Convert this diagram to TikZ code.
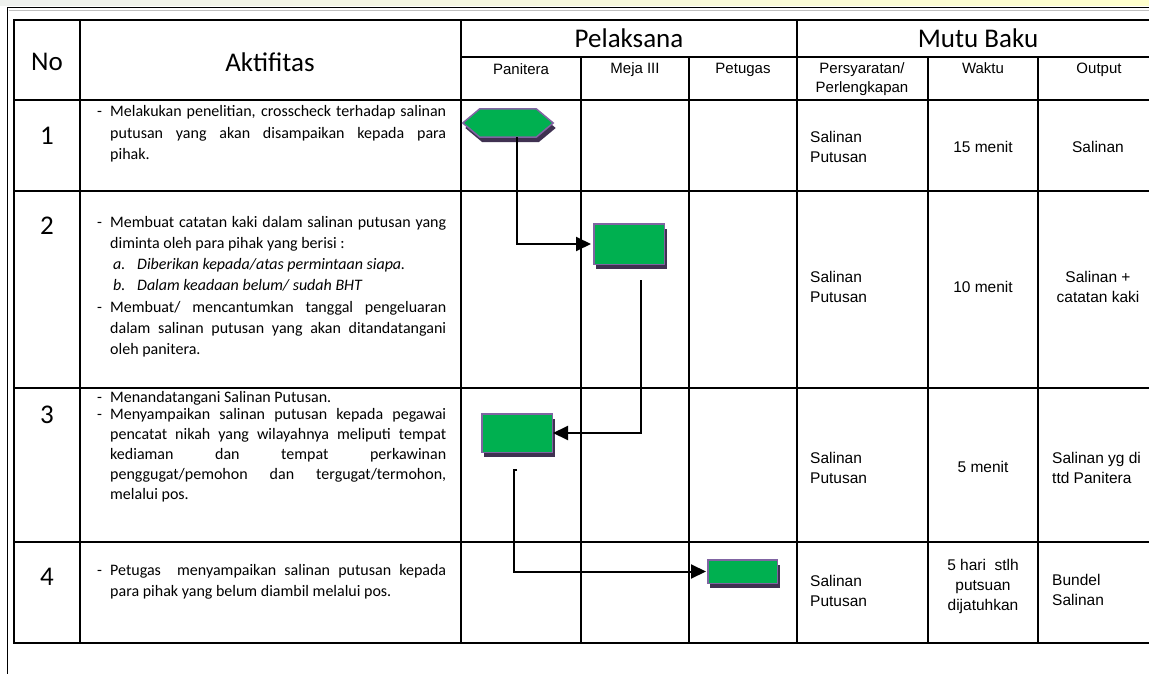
\documentclass[tikz,border=0pt]{standalone}
\usepackage{fontspec}
\setmainfont{Carlito}
\newfontfamily\arialfont{Liberation Sans}
\usetikzlibrary{arrows.meta,shadows}

\definecolor{boxgreen}{HTML}{00B050}
\definecolor{boxpurple}{HTML}{8064A2}
\definecolor{shadepurple}{HTML}{3F3151}

% items in the Aktifitas column
\newcommand\dashitem{\par\noindent\hangindent=13pt\hangafter=1\makebox[13pt][l]{-}}
\newcommand\letitem[2]{\par\noindent\hspace*{16pt}\makebox[24pt][l]{\itshape #1}\textit{#2}}
\newcommand\actbox[2][21.3]{\parbox[t]{349pt}{\fontsize{16}{#1}\selectfont
  \hyphenpenalty=10000 \exhyphenpenalty=10000 #2}}

\tikzset{
  tabline/.style={line width=1.8pt, line cap=rect},
  head/.style={font=\fontsize{27}{32}\selectfont, inner sep=0},
  sub/.style={font=\arialfont\fontsize{15}{19.5}\selectfont, inner sep=0, align=center, anchor=north},
  cell/.style={font=\arialfont\fontsize{15.5}{20}\selectfont, inner sep=0},
  act/.style={anchor=base west, inner sep=0},
  task/.style={draw=boxpurple, fill=boxgreen, line width=1.5pt, inner sep=0,
    drop shadow={shadow xshift=2.5pt, shadow yshift=-5pt, fill=shadepurple, opacity=1}},
  flow/.style={line width=2pt, -{Triangle[length=15pt,width=14pt]}},
}

\begin{document}
\begin{tikzpicture}[x=1pt, y=-1pt]
    \useasboundingbox (0,0) rectangle (1149,674);
    \fill[white] (0,0) rectangle (1149,674);
    \fill[left color=green!8!gray!12, right color=yellow!20] (0,0) rectangle (1149,6);

    % Outer frame
    \draw[line width=1.4pt] (7.5,674) -- (7.5,7.5) -- (1149,7.5);
    \draw[gray!50, line width=0.8pt] (9,10.5) -- (1149,10.5);

    % Table grid
    \draw[tabline] (14,20) rectangle (1165,643);
    \draw[tabline] (14,100) -- (1165,100) (14,191) -- (1165,191)
                   (14,388) -- (1165,388) (14,542) -- (1165,542);
    \draw[tabline] (461,57) -- (1165,57);
    \draw[tabline] (80,20) -- (80,643) (461,20) -- (461,643) (797,20) -- (797,643);
    \draw[tabline] (581,57) -- (581,643) (689,57) -- (689,643)
                   (928,57) -- (928,643) (1038,57) -- (1038,643);

    % Header
    \node[head] (hno) at (47,62) {No};
    \node[head] (hakt) at (270,62) {Aktifitas};
    \node[head] (hpel) at (629,38) {Pelaksana};
    \node[head] (hmutu) at (978,38) {Mutu Baku};
    \node[sub] (hpan) at (521,63) {Panitera};
    \node[sub] (hmeja) at (635,62.5) {Meja III};
    \node[sub] (hpet) at (743,62.5) {Petugas};
    \node[sub] (hsyarat) at (862,62) {Persyaratan/\\Perlengkapan};
    \node[sub] (hwaktu) at (983,62.5) {Waktu};
    \node[sub] (hout) at (1099,62.5) {Output};

    % Row numbers
    \node[head] (n1) at (47,136) {1};
    \node[head] (n2) at (47,226) {2};
    \node[head] (n3) at (47,415) {3};
    \node[head] (n4) at (47,577) {4};

    % Aktifitas
    \node[act] (a1) at (97,117) {\actbox{\dashitem Melakukan penelitian, crosscheck terhadap salinan\linebreak
      putusan yang akan disampaikan kepada para\linebreak pihak.}};
    \node[act] (a2) at (97,227) {\actbox{\dashitem Membuat catatan kaki dalam salinan putusan yang\linebreak
      diminta oleh para pihak yang berisi :
      \letitem{a.}{Diberikan kepada/atas permintaan siapa.}
      \letitem{b.}{Dalam keadaan belum/ sudah BHT}
      \dashitem Membuat/ mencantumkan tanggal pengeluaran\linebreak
      dalam salinan putusan yang akan ditandatangani\linebreak oleh panitera.}};
    \node[act] (a3) at (97,402) {\actbox[20]{\dashitem Menandatangani Salinan Putusan.\par\vspace{-3pt}
      \dashitem Menyampaikan salinan putusan kepada pegawai\linebreak
      pencatat nikah yang wilayahnya meliputi tempat\linebreak
      kediaman dan tempat perkawinan\linebreak
      penggugat/pemohon dan tergugat/termohon,\linebreak melalui pos.}};
    \node[act] (a4) at (97,575) {\actbox{\dashitem Petugas\ \ menyampaikan salinan putusan kepada\linebreak
      para pihak yang belum diambil melalui pos.}};

    % Mutu Baku
    \node[cell, align=left, anchor=west] (p1) at (810,147) {Salinan\\Putusan};
    \node[cell] (w1) at (983,147) {15 menit};
    \node[cell] (o1) at (1098,147) {Salinan};
    \node[cell, align=left, anchor=west] (p2) at (810,287) {Salinan\\Putusan};
    \node[cell] (w2) at (983,287) {10 menit};
    \node[cell, align=center] (o2) at (1098,287) {Salinan +\\catatan kaki};
    \node[cell, align=left, anchor=west] (p3) at (810,468) {Salinan\\Putusan};
    \node[cell] (w3) at (983,467) {5 menit};
    \node[cell, align=left, anchor=west] (o3) at (1052,468) {Salinan yg di\\ttd Panitera};
    \node[cell, align=left, anchor=west] (p4) at (810,591) {Salinan\\Putusan};
    \node[cell, align=center] (w4) at (983,586) {5 hari\ \ stlh\\putsuan\\dijatuhkan};
    \node[cell, align=left, anchor=west] (o4) at (1052,590) {Bundel\\Salinan};

    % Flow shapes
    \node[minimum width=90pt, minimum height=28pt, inner sep=0] (hex) at (508,123) {};
    \draw[task] (hex.west) -- ([xshift=17pt]hex.north west) -- ([xshift=-17pt]hex.north east)
      -- (hex.east) -- ([xshift=-17pt]hex.south east) -- ([xshift=17pt]hex.south west) -- cycle;
    \node[task, minimum width=70.5pt, minimum height=40.5pt] (s2) at (629,244) {};
    \node[task, minimum width=70.5pt, minimum height=38.5pt] (s3) at (517,433) {};
    \node[task, minimum width=69.5pt, minimum height=23.5pt] (s4) at (742.5,571.5) {};

    % Flow
    \draw[flow, shorten >=2pt] ([xshift=9pt]hex.south) |- (s2.west);
    \draw[flow] ([xshift=12pt,yshift=-15pt]s2.south) |- (s3.east);
    \draw[flow, shorten >=1pt] ([yshift=-17pt]s3.south) -- ++(-3,0) |- (s4.west);
\end{tikzpicture}
\end{document}
